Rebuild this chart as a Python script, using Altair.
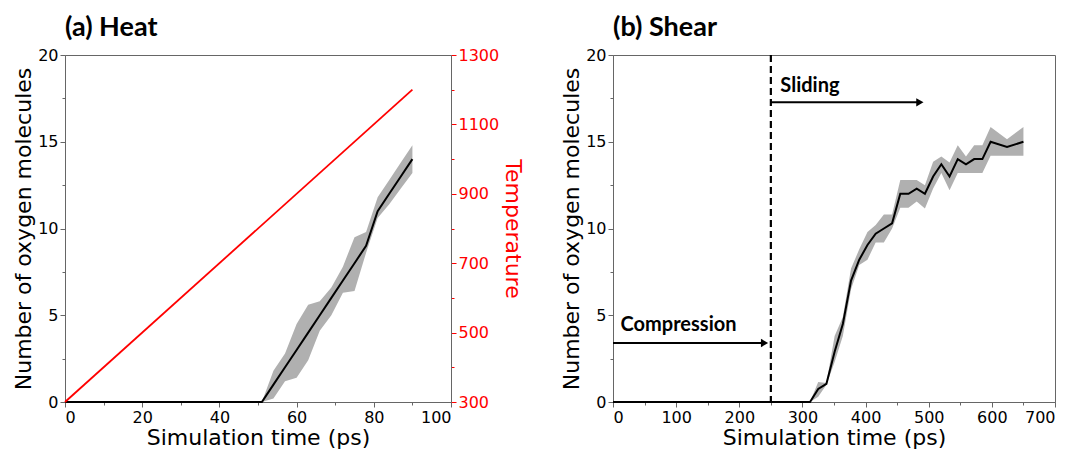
import altair as alt
import pandas as pd

# ---------------- data ----------------
# (a) Heat
heat_t = [0, 51, 54, 57, 60, 63, 66, 69, 72, 75, 78, 81, 84, 87, 90]
heat_mean = [0, 0, 1, 2, 3, 4, 5, 6, 7, 8, 9, 11, 12, 13, 14]
heat_upper = [0, 0, 1.8, 2.8, 4.5, 5.6, 5.8, 6.6, 7.8, 9.5, 9.8, 11.8, 12.8, 13.8, 14.8]
heat_lower = [0, 0, 0.2, 1.2, 1.4, 2.4, 4.1, 5.0, 6.3, 6.4, 8.6, 10.6, 11.4, 12.3, 13.2]
temp_t = [0, 90]
temp_K = [300, 1200]

# (b) Shear
shear_t = [0, 312, 325, 338, 351, 364, 377, 390, 403, 416, 429, 442, 455,
           468, 481, 494, 507, 520, 533, 546, 559, 572, 585, 598, 624, 650]
shear_mean = [0, 0, 0.75, 1.05, 2.9, 4.5, 7.0, 8.2, 9.05, 9.7, 10.0, 10.3, 12.0,
              12.0, 12.3, 12.0, 13.0, 13.7, 13.0, 14.0, 13.7, 14.0, 14.0, 15.0, 14.7, 15.0]
shear_upper = [0, 0, 1.15, 1.1, 3.8, 4.9, 7.7, 8.8, 9.8, 10.2, 10.8, 10.8, 12.8,
               12.8, 12.8, 12.5, 13.85, 14.15, 13.8, 14.8, 14.15, 14.8, 14.8, 15.85, 15.15, 15.85]
shear_lower = [0, 0, 0.3, 1.0, 2.3, 3.8, 6.5, 7.9, 8.2, 9.2, 9.2, 10.0, 11.2,
               11.2, 11.55, 11.15, 12.3, 13.2, 12.2, 13.2, 13.2, 13.2, 13.2, 14.2, 14.2, 14.2]

# annotations (b)
divider_t = [250]
arrow_start = [0, 250]
arrow_end = [240, 486]
arrow_y = [3.4, 17.27]
label_text = ["Compression", "Sliding"]
label_t = [12, 265]
label_y = [4.07, 17.85]

# axis ticks
heat_x_ticks = list(range(0, 101, 10))
shear_x_ticks = list(range(0, 701, 50))
count_ticks = [0, 2.5, 5, 7.5, 10, 12.5, 15, 17.5, 20]
temp_ticks = list(range(300, 1301, 100))

# ---------------- helpers ----------------
GRAY = "#666666"
W_A, W_B, H = 386, 442, 347


def tick_axis(values, major_test, title, **kw):
    return alt.Axis(
        values=values,
        labelExpr=f"({major_test}) ? datum.label : ''",
        tickSize={"condition": {"test": major_test, "value": 5}, "value": 3},
        labelOverlap=False,
        title=title,
        format="d" if all(float(v).is_integer() for v in values) else "",
        **kw,
    )


heat_x_axis = tick_axis(heat_x_ticks, "datum.value % 20 === 0", "Simulation time (ps)")
shear_x_axis = tick_axis(shear_x_ticks, "datum.value % 100 === 0", "Simulation time (ps)")
count_axis = tick_axis(count_ticks, "datum.value % 5 === 0", "Number of oxygen molecules")
temp_axis = tick_axis(temp_ticks, "datum.value % 200 === 100", "Temperature",
                      orient="right", labelColor="red", titleColor="red", tickColor="red")

heat_x = dict(scale=alt.Scale(domain=[0, 100], nice=False), axis=heat_x_axis)
shear_x = dict(scale=alt.Scale(domain=[0, 700], nice=False), axis=shear_x_axis)
count_y = dict(scale=alt.Scale(domain=[0, 20], nice=False), axis=count_axis)

# ---------------- panel (a) ----------------
heat_df = pd.DataFrame({"t": heat_t, "v": heat_mean, "lo": heat_lower, "hi": heat_upper})
temp_df = pd.DataFrame({"t": temp_t, "T": temp_K})

band_a = alt.Chart(heat_df).mark_area(color="#b0b0b0", opacity=1).encode(
    x=alt.X("t:Q", **heat_x), y=alt.Y("lo:Q", **count_y), y2="hi:Q")
line_a = alt.Chart(heat_df).mark_line(color="black", strokeWidth=2).encode(
    x=alt.X("t:Q", **heat_x), y=alt.Y("v:Q", **count_y))
temp_line = alt.Chart(temp_df).mark_line(color="red", strokeWidth=1.8).encode(
    x=alt.X("t:Q", **heat_x),
    y=alt.Y("T:Q", scale=alt.Scale(domain=[300, 1300], nice=False), axis=temp_axis))

left_a = alt.layer(band_a, line_a)
panel_a = alt.layer(left_a, temp_line).resolve_scale(y="independent").properties(
    width=W_A, height=H,
    title=alt.TitleParams("(a) Heat", anchor="start", frame="group", offset=5),
)

# ---------------- panel (b) ----------------
shear_df = pd.DataFrame({"t": shear_t, "v": shear_mean, "lo": shear_lower, "hi": shear_upper})
div_df = pd.DataFrame({"t": divider_t})
arrow_df = pd.DataFrame({"t": arrow_start, "t2": arrow_end, "v": arrow_y})
head_df = pd.DataFrame({"t": arrow_end, "v": arrow_y})
lab_df = pd.DataFrame({"t": label_t, "v": label_y, "text": label_text})

band_b = alt.Chart(shear_df).mark_area(color="#b0b0b0", opacity=1).encode(
    x=alt.X("t:Q", **shear_x), y=alt.Y("lo:Q", **count_y), y2="hi:Q")
line_b = alt.Chart(shear_df).mark_line(color="black", strokeWidth=2).encode(
    x=alt.X("t:Q", **shear_x), y=alt.Y("v:Q", **count_y))
divider = alt.Chart(div_df).mark_rule(color="black", strokeWidth=2.2, strokeDash=[7, 4]).encode(
    x=alt.X("t:Q", **shear_x))
shafts = alt.Chart(arrow_df).mark_rule(color="black", strokeWidth=2).encode(
    x=alt.X("t:Q", **shear_x), x2="t2:Q", y=alt.Y("v:Q", **count_y))
heads = alt.Chart(head_df).mark_point(shape="triangle-right", filled=True, color="black",
                                      size=70, opacity=1).encode(
    x=alt.X("t:Q", **shear_x), y=alt.Y("v:Q", **count_y))
labels = alt.Chart(lab_df).mark_text(align="left", baseline="alphabetic", font="Lato",
                                     fontWeight="bold", fontSize=20, color="black").encode(
    x=alt.X("t:Q", **shear_x), y=alt.Y("v:Q", **count_y), text="text:N")

panel_b = alt.layer(band_b, line_b, divider, shafts, heads, labels).properties(
    width=W_B, height=H,
    title=alt.TitleParams("(b) Shear", anchor="start", frame="group", offset=5),
)

chart = alt.hconcat(panel_a, panel_b, spacing=35).properties(
    padding={"left": 4, "top": 5, "right": 0, "bottom": 0}
).configure_axis(
    labelFont="DejaVu Sans", titleFont="DejaVu Sans", labelFontSize=16, titleFontSize=22,
    titleFontWeight="normal", labelColor="black", titleColor="black", grid=False,
    domainColor=GRAY, tickColor=GRAY, labelPadding=2, titlePadding=2,
).configure_view(stroke=GRAY).configure_title(
    font="Lato", fontSize=27, fontWeight="bold", color="black")

chart.save("out.html", embed_options={"renderer": "svg", "actions": False})
